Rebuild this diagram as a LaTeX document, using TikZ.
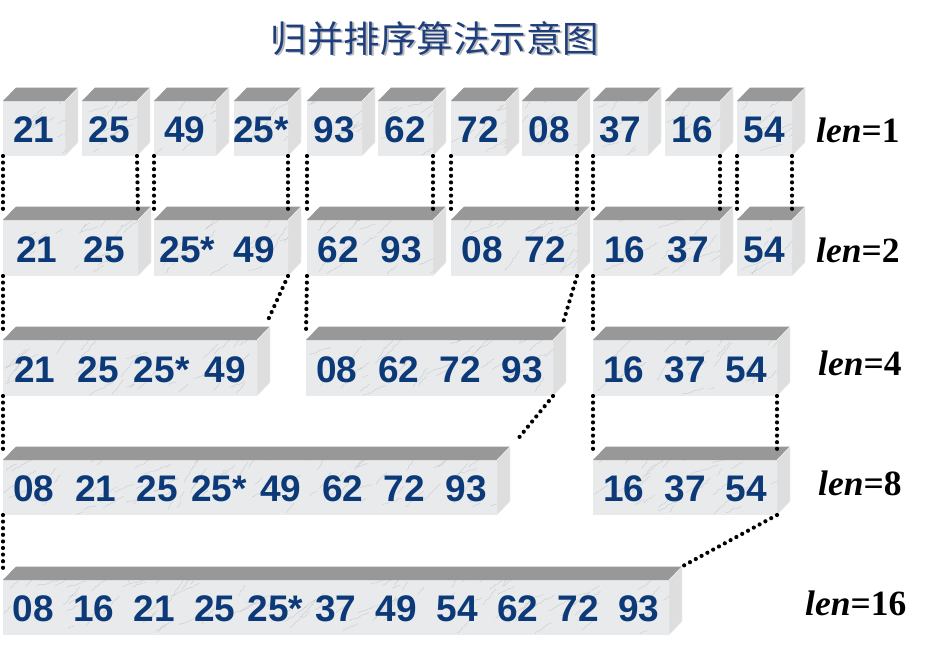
\documentclass[tikz,border=0pt]{standalone}
\usepackage{fontspec}
\setmainfont{Liberation Serif}
\newfontfamily\numfont{Liberation Sans}
\newfontfamily\cjkfont{Noto Sans CJK SC}
\usetikzlibrary{calc,decorations.pathmorphing}
\definecolor{numblue}{RGB}{12,58,120}
\definecolor{titleblue}{RGB}{30,62,125}
\definecolor{topgray}{RGB}{152,152,152}
\definecolor{sidegray}{RGB}{222,222,222}
\definecolor{frontgray}{RGB}{232,234,236}
\definecolor{veingray}{RGB}{150,154,160}
\tikzset{
  frontface/.style={rectangle, fill=frontgray, inner sep=0pt, outer sep=0pt, draw=none},
  topface/.style={fill=topgray},
  sideface/.style={fill=sidegray, draw=white!92!gray, line width=0.4pt},
  numlabel/.style={font=\numfont\bfseries\fontsize{37}{40}\selectfont, text=numblue, inner sep=0pt, anchor=base},
  lenlabel/.style={font=\fontsize{35.5}{40}\selectfont\bfseries, inner sep=0pt, anchor=base west},
  dotline/.style={line width=4.2pt, line cap=round, dash pattern=on 0pt off 6.6pt},
  vein/.style={draw=veingray, line width=0.45pt, opacity=0.35, decorate, decoration={random steps, segment length=2.5pt, amplitude=0.8pt}},
}
\newcommand{\cubebox}[7]{%
  \node[frontface, anchor=north west, minimum width={(#3)-(#2)}, minimum height={(#5)-(#4)}] (#1) at (#2,#4) {};
  \fill[topface] (#1.north west) -- ++(13pt,13.5pt) -- ([shift={(13pt,13.5pt)}]#1.north east) -- (#1.north east) -- cycle;
  \fill[sideface] (#1.north east) -- ++(13pt,13.5pt) -- ([shift={(13pt,13.5pt)}]#1.south east) -- (#1.south east) -- cycle;
  \begin{scope}
    \clip (#1.south west) rectangle (#1.north east);
    \pgfmathtruncatemacro\nveins{9*#7}
    \foreach \k in {1,...,\nveins}{
      \pgfmathsetmacro\vx{#2+rnd*((#3)-(#2))}
      \pgfmathsetmacro\vy{#4+rnd*((#5)-(#4))}
      \pgfmathsetmacro\vang{15+rnd*45}
      \pgfmathsetmacro\vlen{6+rnd*24}
      \draw[vein] (\vx,\vy) -- ++(\vang:\vlen pt);
    }
  \end{scope}
  \foreach \v [count=\i] in {#6}{
    \pgfmathsetmacro\cx{#2+(\i-0.5)*((#3)-(#2))/#7}
    \node[numlabel] (#1-n\i) at (\cx,{(#5)-13.5}) {\v};
  }
}
\newcommand{\shadowtext}[1]{\rlap{\kern1.8pt\raisebox{-1.8pt}{\textcolor{gray!55}{#1}}}\textcolor{titleblue}{#1}}
\begin{document}
\begin{tikzpicture}[x=1pt,y=-1pt]
\pgfmathsetseed{12}
\fill[white] (0,0) rectangle (929,653);
\useasboundingbox (0,0) rectangle (929,653);

% title
\node[font=\cjkfont\fontsize{36.5}{40}\selectfont, inner sep=0pt] (title) at (435,39) {\shadowtext{归并排序算法示意图}};

% row 1
\cubebox{a1}{3}{65}{101}{156}{21}{1}
\cubebox{a2}{82}{137}{101}{156}{25}{1}
\cubebox{a3}{154}{216}{101}{156}{49}{1}
\cubebox{a4}{234}{288}{101}{156}{25*}{1}
\cubebox{a5}{307}{362}{101}{156}{93}{1}
\cubebox{a6}{378}{433}{101}{156}{62}{1}
\cubebox{a7}{451}{506}{101}{156}{72}{1}
\cubebox{a8}{522}{577}{101}{156}{08}{1}
\cubebox{a9}{593}{648}{101}{156}{37}{1}
\cubebox{a10}{665}{720}{101}{156}{16}{1}
\cubebox{a11}{737}{792}{101}{156}{54}{1}

% row 2
\cubebox{b1}{3}{138}{220}{276}{21,25}{2}
\cubebox{b2}{154}{288}{220}{276}{25*,49}{2}
\cubebox{b3}{307}{433}{220}{276}{62,93}{2}
\cubebox{b4}{451}{577}{220}{276}{08,72}{2}
\cubebox{b5}{593}{720}{220}{276}{16,37}{2}
\cubebox{b6}{737}{792}{220}{276}{54}{1}

% row 3
\cubebox{c1}{3}{257}{340}{396}{21,25,25*,49}{4}
\cubebox{c2}{306}{553}{340}{396}{08,62,72,93}{4}
\cubebox{c3}{593}{777}{340}{396}{16,37,54}{3}

% row 4
\cubebox{d1}{3}{497}{460}{515}{08,21,25,25*,49,62,72,93}{8}
\cubebox{d2}{593}{777}{460}{515}{16,37,54}{3}

% row 5
\cubebox{e1}{3}{669}{580}{635}{08,16,21,25,25*,37,49,54,62,72,93}{11}

% labels
\node[lenlabel] (len1) at (816,142) {\textit{len}=1};
\node[lenlabel] (len2) at (816,262) {\textit{len}=2};
\node[lenlabel] (len4) at (818,375) {\textit{len}=4};
\node[lenlabel] (len8) at (818,495) {\textit{len}=8};
\node[lenlabel] (len16) at (805,615) {\textit{len}=16};

% connectors row1 -> row2
\draw[dotline] (a1.south west) -- ([yshift=7pt]b1.north west);
\draw[dotline] (a2.south east) -- ([yshift=7pt]b1.north east);
\draw[dotline] (a3.south west) -- ([yshift=7pt]b2.north west);
\draw[dotline] (a4.south east) -- ([yshift=7pt]b2.north east);
\draw[dotline] (a5.south west) -- ([yshift=7pt]b3.north west);
\draw[dotline] (a6.south east) -- ([yshift=7pt]b3.north east);
\draw[dotline] (a7.south west) -- ([yshift=7pt]b4.north west);
\draw[dotline] (a8.south east) -- ([yshift=7pt]b4.north east);
\draw[dotline] (a9.south west) -- ([yshift=7pt]b5.north west);
\draw[dotline] (a10.south east) -- ([yshift=7pt]b5.north east);
\draw[dotline] (a11.south west) -- ([yshift=7pt]b6.north west);
\draw[dotline] (a11.south east) -- ([yshift=7pt]b6.north east);

% row2 -> row3
\draw[dotline] (b1.south west) -- ([yshift=7pt]c1.north west);
\draw[dotline] (b2.south east) -- ([shift={(11pt,20pt)}]c1.north east);
\draw[dotline] (b3.south west) -- ([yshift=7pt]c2.north west);
\draw[dotline] (b4.south east) -- ([shift={(10pt,17pt)}]c2.north east);
\draw[dotline] (b5.south west) -- ([yshift=7pt]c3.north west);

% row3 -> row4
\draw[dotline] (c1.south west) -- ([yshift=7pt]d1.north west);
\draw[dotline] (c2.south east) -- ([shift={(20pt,20pt)}]d1.north east);
\draw[dotline] (c3.south west) -- ([yshift=7pt]d2.north west);
\draw[dotline] (c3.south east) -- ([yshift=7pt]d2.north east);

% row4 -> row5
\draw[dotline] (d1.south west) -- ([yshift=7pt]e1.north west);
\draw[dotline] (d2.south east) -- ([shift={(13pt,13.5pt)}]e1.north east);
\end{tikzpicture}
\end{document}
